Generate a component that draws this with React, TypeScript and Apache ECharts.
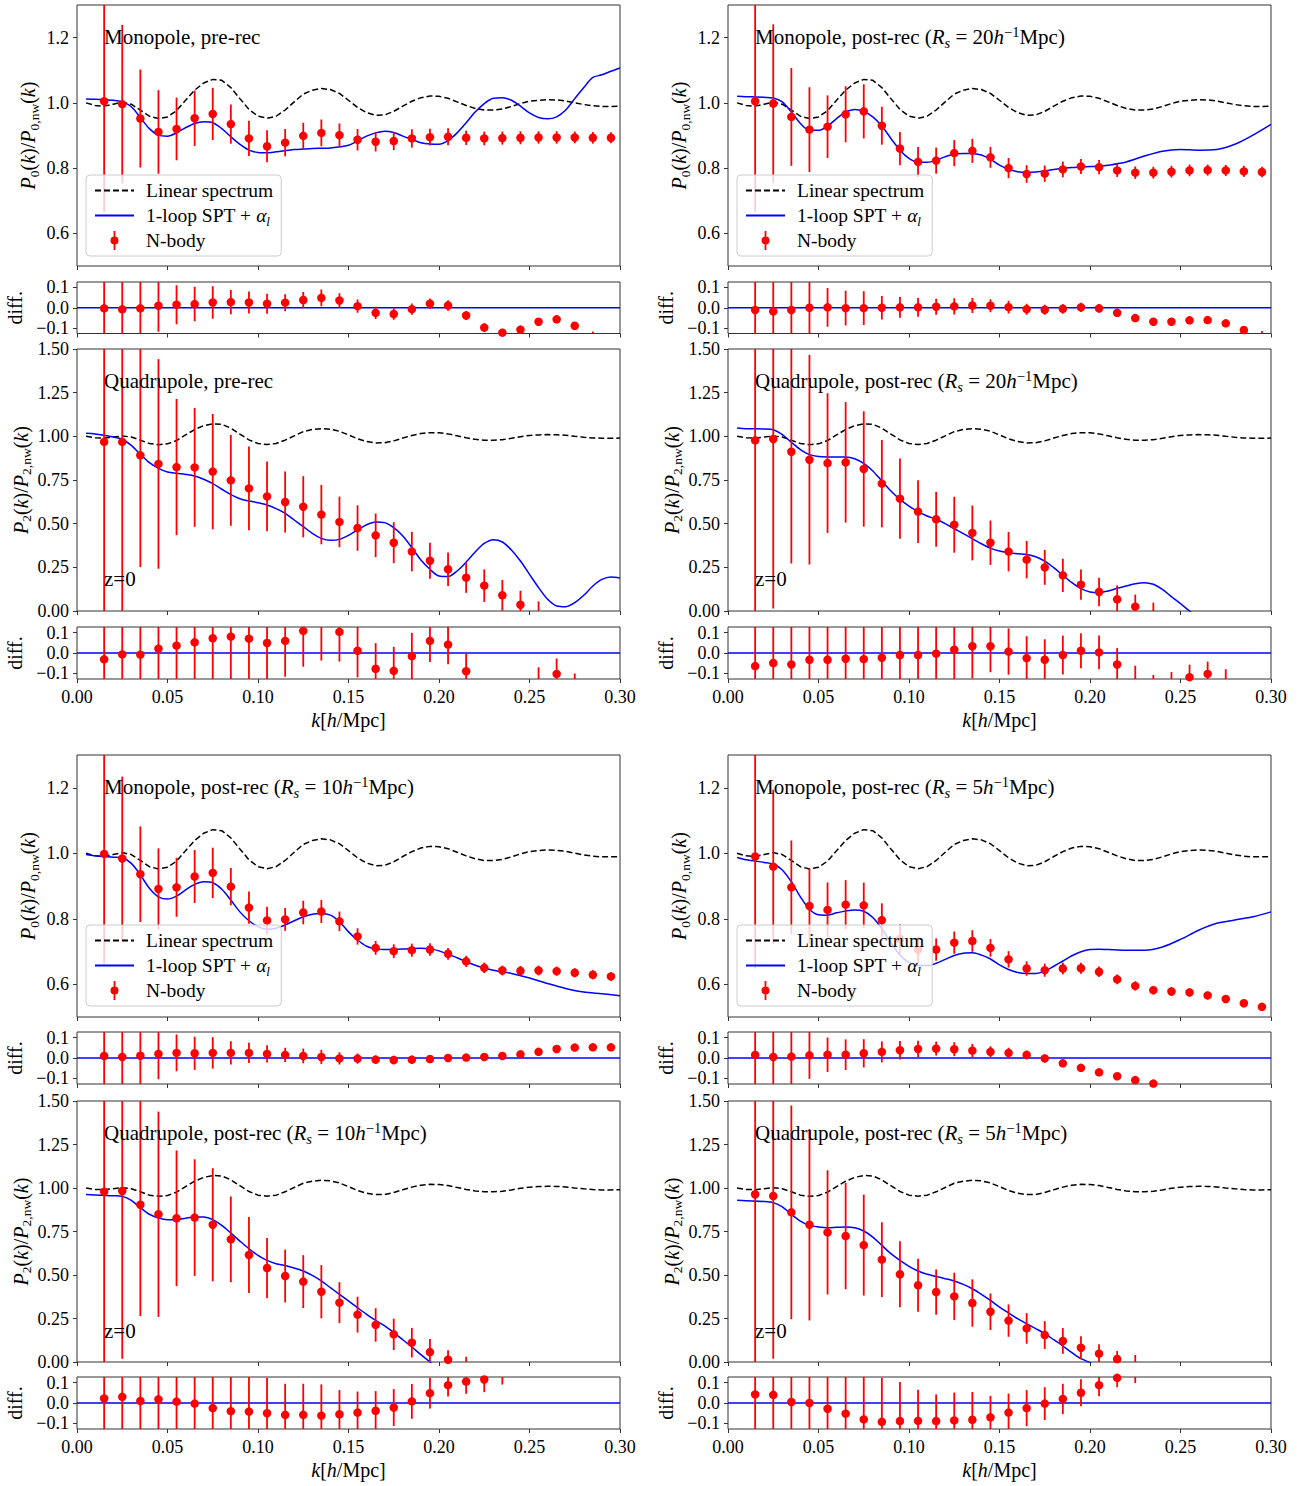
import React, { useEffect, useRef } from "react";
import * as echarts from "echarts";

// ---------------- DATA ----------------
const K = [0.015, 0.025, 0.035, 0.045, 0.055, 0.065, 0.075, 0.085, 0.095, 0.105, 0.115, 0.125, 0.135, 0.145, 0.155, 0.165, 0.175, 0.185, 0.195, 0.205, 0.215, 0.225, 0.235, 0.245, 0.255, 0.265, 0.275, 0.285, 0.295];

const LINEAR = [
  [0.005, 1.0], [0.01, 0.992], [0.015, 0.99], [0.02, 0.996], [0.025, 1.002], [0.03, 0.996], [0.035, 0.978], [0.04, 0.959], [0.045, 0.952], [0.05, 0.957],
  [0.055, 0.976], [0.06, 1.008], [0.065, 1.039], [0.07, 1.061], [0.075, 1.072], [0.08, 1.069], [0.085, 1.047], [0.09, 1.013], [0.095, 0.98], [0.1, 0.959],
  [0.105, 0.953], [0.11, 0.959], [0.115, 0.978], [0.12, 1.003], [0.125, 1.027], [0.13, 1.039], [0.135, 1.044], [0.14, 1.041], [0.145, 1.029], [0.15, 1.008],
  [0.155, 0.986], [0.16, 0.97], [0.165, 0.962], [0.17, 0.963], [0.175, 0.974], [0.18, 0.99], [0.185, 1.005], [0.19, 1.016], [0.195, 1.021], [0.2, 1.02],
  [0.205, 1.014], [0.21, 1.003], [0.215, 0.992], [0.22, 0.983], [0.225, 0.978], [0.23, 0.978], [0.235, 0.981], [0.24, 0.989], [0.245, 0.998], [0.25, 1.005],
  [0.255, 1.008], [0.26, 1.01], [0.265, 1.009], [0.27, 1.006], [0.275, 1.0], [0.28, 0.995], [0.285, 0.991], [0.29, 0.989], [0.295, 0.989], [0.3, 0.99],
];

// pre-rec monopole
const M0_VALS = [1.005, 0.996, 0.952, 0.911, 0.92, 0.953, 0.966, 0.935, 0.891, 0.867, 0.878, 0.899, 0.908, 0.901, 0.887, 0.881, 0.883, 0.891, 0.895, 0.896, 0.893, 0.891, 0.892, 0.893, 0.894, 0.894, 0.894, 0.893, 0.893];
const M0_ERR = [0.34, 0.243, 0.15, 0.128, 0.096, 0.085, 0.08, 0.06, 0.054, 0.049, 0.042, 0.04, 0.041, 0.036, 0.033, 0.03, 0.028, 0.028, 0.026, 0.026, 0.022, 0.021, 0.02, 0.02, 0.019, 0.019, 0.018, 0.018, 0.017];
const M0_DIFF = [-0.003, -0.008, -0.003, 0.01, 0.015, 0.018, 0.026, 0.028, 0.026, 0.02, 0.025, 0.038, 0.049, 0.036, 0.008, -0.025, -0.031, -0.007, 0.02, 0.011, -0.038, -0.098, -0.123, -0.108, -0.069, -0.057, -0.089, -0.135, null];
const M0_MODEL = [
  [0.005, 1.012], [0.01, 1.011], [0.02, 1.008], [0.025, 1.003], [0.03, 0.988], [0.035, 0.955], [0.04, 0.921], [0.045, 0.901], [0.05, 0.898], [0.055, 0.908],
  [0.06, 0.924], [0.065, 0.937], [0.07, 0.942], [0.075, 0.939], [0.08, 0.921], [0.085, 0.896], [0.09, 0.873], [0.095, 0.855], [0.1, 0.848], [0.105, 0.847],
  [0.11, 0.85], [0.115, 0.853], [0.12, 0.857], [0.13, 0.86], [0.14, 0.862], [0.15, 0.87], [0.155, 0.883], [0.16, 0.898], [0.165, 0.908], [0.17, 0.913],
  [0.175, 0.909], [0.18, 0.898], [0.185, 0.888], [0.19, 0.878], [0.195, 0.874], [0.2, 0.873], [0.205, 0.884], [0.21, 0.908], [0.215, 0.939], [0.22, 0.972],
  [0.225, 0.998], [0.23, 1.014], [0.235, 1.016], [0.24, 1.008], [0.245, 0.99], [0.25, 0.969], [0.255, 0.955], [0.26, 0.951], [0.265, 0.957], [0.27, 0.978],
  [0.275, 1.013], [0.28, 1.047], [0.285, 1.078], [0.29, 1.086], [0.295, 1.097], [0.3, 1.107],
];

// pre-rec quadrupole
const Q0_VALS = [0.968, 0.968, 0.891, 0.842, 0.824, 0.822, 0.798, 0.748, 0.702, 0.656, 0.624, 0.597, 0.552, 0.51, 0.475, 0.433, 0.391, 0.34, 0.288, 0.239, 0.191, 0.145, 0.09, 0.036, -0.025, null, null, null, null];
const Q0_ERR = [1.1, 1.0, 0.64, 0.6, 0.39, 0.34, 0.33, 0.26, 0.24, 0.2, 0.175, 0.175, 0.17, 0.145, 0.13, 0.125, 0.117, 0.113, 0.103, 0.096, 0.087, 0.093, 0.088, 0.08, 0.08, 0.075, 0.07, 0.07, 0.07];
const Q0_DIFF = [-0.031, -0.007, -0.008, 0.021, 0.036, 0.052, 0.072, 0.08, 0.07, 0.049, 0.059, 0.108, 0.133, 0.103, 0.011, -0.077, -0.087, -0.015, 0.059, 0.041, -0.089, null, null, null, -0.15, -0.102, -0.17, null, null];
const Q0_MODEL = [
  [0.005, 1.017], [0.01, 1.013], [0.02, 0.996], [0.025, 0.983], [0.03, 0.948], [0.035, 0.897], [0.04, 0.849], [0.045, 0.817], [0.05, 0.796], [0.055, 0.788],
  [0.06, 0.782], [0.065, 0.773], [0.07, 0.754], [0.075, 0.729], [0.08, 0.697], [0.085, 0.666], [0.09, 0.643], [0.095, 0.63], [0.1, 0.62], [0.105, 0.607],
  [0.11, 0.586], [0.115, 0.559], [0.12, 0.521], [0.125, 0.483], [0.13, 0.445], [0.135, 0.416], [0.14, 0.405], [0.145, 0.41], [0.15, 0.433], [0.155, 0.464],
  [0.16, 0.494], [0.165, 0.51], [0.17, 0.506], [0.175, 0.477], [0.18, 0.429], [0.185, 0.363], [0.19, 0.292], [0.195, 0.239], [0.2, 0.2], [0.205, 0.197],
  [0.21, 0.229], [0.215, 0.28], [0.22, 0.338], [0.225, 0.387], [0.23, 0.408], [0.235, 0.395], [0.24, 0.349], [0.245, 0.286], [0.25, 0.21], [0.255, 0.134],
  [0.26, 0.067], [0.265, 0.029], [0.27, 0.025], [0.275, 0.048], [0.28, 0.09], [0.285, 0.143], [0.29, 0.181], [0.295, 0.195], [0.3, 0.189],
];

// post-rec Rs=20
const M20_VALS = [1.005, 0.998, 0.957, 0.918, 0.927, 0.965, 0.974, 0.93, 0.86, 0.819, 0.823, 0.846, 0.853, 0.833, 0.8, 0.782, 0.783, 0.796, 0.805, 0.803, 0.793, 0.786, 0.786, 0.789, 0.793, 0.794, 0.793, 0.79, 0.788];
const M20_ERR = [0.34, 0.243, 0.15, 0.13, 0.096, 0.086, 0.083, 0.058, 0.051, 0.046, 0.04, 0.04, 0.037, 0.032, 0.031, 0.027, 0.025, 0.024, 0.023, 0.022, 0.02, 0.019, 0.018, 0.018, 0.018, 0.017, 0.017, 0.017, 0.016];
const M20_DIFF = [-0.011, -0.018, -0.011, 0, 0.002, -0.002, -0.002, 0, 0.002, 0.002, 0.005, 0.007, 0.011, 0.01, 0.003, -0.007, -0.01, -0.005, 0.002, -0.003, -0.025, -0.051, -0.069, -0.069, -0.062, -0.061, -0.077, -0.11, -0.131];
const M20_MODEL = [
  [0.005, 1.02], [0.01, 1.019], [0.02, 1.017], [0.025, 1.015], [0.03, 1.003], [0.035, 0.972], [0.04, 0.937], [0.045, 0.916], [0.05, 0.916], [0.055, 0.929],
  [0.06, 0.952], [0.065, 0.972], [0.07, 0.98], [0.075, 0.974], [0.08, 0.957], [0.085, 0.929], [0.09, 0.891], [0.095, 0.855], [0.1, 0.83], [0.105, 0.818],
  [0.11, 0.818], [0.115, 0.824], [0.12, 0.835], [0.125, 0.843], [0.13, 0.845], [0.135, 0.845], [0.14, 0.84], [0.145, 0.827], [0.15, 0.809], [0.155, 0.797],
  [0.16, 0.789], [0.165, 0.787], [0.17, 0.788], [0.175, 0.791], [0.18, 0.796], [0.19, 0.802], [0.2, 0.805], [0.205, 0.806], [0.21, 0.809], [0.22, 0.819],
  [0.23, 0.837], [0.24, 0.852], [0.25, 0.857], [0.26, 0.855], [0.27, 0.857], [0.28, 0.873], [0.29, 0.901], [0.3, 0.934],
];
const Q20_VALS = [0.977, 0.985, 0.912, 0.866, 0.847, 0.851, 0.813, 0.729, 0.643, 0.569, 0.525, 0.494, 0.447, 0.391, 0.34, 0.294, 0.25, 0.204, 0.151, 0.109, 0.067, 0.025, -0.02, null, null, null, null, null, null];
const Q20_ERR = [1.1, 0.97, 0.64, 0.6, 0.4, 0.345, 0.33, 0.25, 0.23, 0.18, 0.157, 0.16, 0.157, 0.127, 0.113, 0.107, 0.1, 0.095, 0.086, 0.082, 0.08, 0.069, 0.068, 0.065, 0.061, 0.06, 0.055, 0.055, 0.055];
const Q20_DIFF = [-0.064, -0.049, -0.056, -0.033, -0.033, -0.028, -0.03, -0.023, -0.01, -0.01, -0.003, 0.016, 0.033, 0.033, 0.007, -0.025, -0.033, -0.01, 0.011, 0.003, -0.056, -0.131, -0.175, -0.158, -0.118, -0.102, -0.134, null, null];
const Q20_MODEL = [
  [0.005, 1.048], [0.01, 1.044], [0.02, 1.042], [0.025, 1.038], [0.03, 1.01], [0.035, 0.966], [0.04, 0.924], [0.045, 0.895], [0.05, 0.884], [0.055, 0.882],
  [0.06, 0.882], [0.065, 0.882], [0.07, 0.872], [0.075, 0.845], [0.08, 0.802], [0.085, 0.744], [0.09, 0.687], [0.095, 0.639], [0.1, 0.601], [0.105, 0.569],
  [0.11, 0.544], [0.115, 0.525], [0.12, 0.5], [0.125, 0.471], [0.13, 0.443], [0.135, 0.414], [0.14, 0.385], [0.145, 0.36], [0.15, 0.343], [0.155, 0.334],
  [0.16, 0.328], [0.165, 0.324], [0.17, 0.311], [0.175, 0.286], [0.18, 0.248], [0.185, 0.204], [0.19, 0.162], [0.195, 0.128], [0.2, 0.109], [0.205, 0.105],
  [0.21, 0.115], [0.215, 0.13], [0.22, 0.143], [0.225, 0.156], [0.23, 0.162], [0.235, 0.153], [0.24, 0.124], [0.245, 0.082], [0.25, 0.042], [0.255, 0.0],
  [0.26, -0.04],
];

// post-rec Rs=10
const M10_VALS = [0.998, 0.984, 0.936, 0.891, 0.896, 0.929, 0.94, 0.898, 0.834, 0.795, 0.798, 0.819, 0.822, 0.792, 0.746, 0.711, 0.701, 0.704, 0.706, 0.693, 0.67, 0.65, 0.642, 0.641, 0.642, 0.64, 0.635, 0.629, 0.624];
const M10_ERR = [0.335, 0.25, 0.146, 0.124, 0.09, 0.081, 0.077, 0.057, 0.049, 0.042, 0.035, 0.036, 0.035, 0.03, 0.025, 0.021, 0.021, 0.02, 0.019, 0.018, 0.017, 0.016, 0.015, 0.015, 0.015, 0.014, 0.014, 0.014, 0.013];
const M10_DIFF = [0.01, 0.005, 0.011, 0.02, 0.025, 0.023, 0.025, 0.025, 0.025, 0.02, 0.015, 0.01, 0.005, -0.002, -0.003, -0.008, -0.01, -0.008, -0.005, 0, 0.002, 0.005, 0.01, 0.018, 0.03, 0.044, 0.051, 0.052, 0.052];
const M10_MODEL = [
  [0.005, 0.996], [0.01, 0.992], [0.02, 0.988], [0.025, 0.986], [0.03, 0.969], [0.035, 0.934], [0.04, 0.893], [0.045, 0.867], [0.05, 0.86], [0.055, 0.869],
  [0.06, 0.888], [0.065, 0.905], [0.07, 0.913], [0.075, 0.91], [0.08, 0.89], [0.085, 0.857], [0.09, 0.821], [0.095, 0.794], [0.1, 0.776], [0.105, 0.768],
  [0.11, 0.771], [0.115, 0.781], [0.12, 0.794], [0.125, 0.806], [0.13, 0.814], [0.135, 0.816], [0.14, 0.811], [0.145, 0.791], [0.15, 0.76], [0.155, 0.735],
  [0.16, 0.716], [0.165, 0.708], [0.17, 0.706], [0.18, 0.708], [0.19, 0.71], [0.195, 0.708], [0.2, 0.702], [0.21, 0.681], [0.22, 0.658], [0.23, 0.643],
  [0.24, 0.633], [0.25, 0.619], [0.26, 0.602], [0.27, 0.587], [0.28, 0.576], [0.29, 0.571], [0.3, 0.565],
];
const Q10_VALS = [0.979, 0.983, 0.904, 0.849, 0.826, 0.83, 0.789, 0.705, 0.615, 0.54, 0.494, 0.462, 0.404, 0.341, 0.272, 0.213, 0.159, 0.111, 0.057, 0.013, -0.03, null, null, null, null, null, null, null, null];
const Q10_ERR = [1.1, 0.965, 0.64, 0.59, 0.39, 0.335, 0.325, 0.246, 0.218, 0.173, 0.152, 0.152, 0.153, 0.118, 0.103, 0.096, 0.09, 0.085, 0.075, 0.055, 0.06, 0.062, 0.055, 0.055, 0.05, 0.05, 0.05, 0.05, 0.05];
const Q10_DIFF = [0.022, 0.03, 0.01, 0.018, 0.007, -0.003, -0.025, -0.04, -0.042, -0.05, -0.058, -0.058, -0.062, -0.055, -0.047, -0.038, -0.022, 0.008, 0.048, 0.087, 0.105, 0.115, 0.145, null, null, null, null, null, null];
const Q10_MODEL = [
  [0.005, 0.962], [0.01, 0.96], [0.02, 0.956], [0.025, 0.952], [0.03, 0.929], [0.035, 0.887], [0.04, 0.849], [0.045, 0.828], [0.05, 0.818], [0.055, 0.818],
  [0.06, 0.826], [0.065, 0.833], [0.07, 0.833], [0.075, 0.818], [0.08, 0.785], [0.085, 0.741], [0.09, 0.695], [0.095, 0.651], [0.1, 0.613], [0.105, 0.584],
  [0.11, 0.565], [0.115, 0.554], [0.12, 0.54], [0.125, 0.523], [0.13, 0.498], [0.135, 0.466], [0.14, 0.427], [0.145, 0.389], [0.15, 0.351], [0.155, 0.312],
  [0.16, 0.274], [0.165, 0.239], [0.17, 0.207], [0.175, 0.169], [0.18, 0.128], [0.185, 0.086], [0.19, 0.042], [0.195, 0.0], [0.2, -0.04],
];

// post-rec Rs=5
const M5_VALS = [0.99, 0.959, 0.896, 0.839, 0.827, 0.843, 0.841, 0.796, 0.738, 0.706, 0.706, 0.727, 0.732, 0.711, 0.676, 0.648, 0.643, 0.648, 0.649, 0.638, 0.615, 0.595, 0.582, 0.578, 0.575, 0.566, 0.555, 0.542, 0.531];
const M5_ERR = [0.342, 0.235, 0.143, 0.115, 0.084, 0.075, 0.069, 0.051, 0.045, 0.04, 0.034, 0.034, 0.033, 0.027, 0.025, 0.022, 0.02, 0.018, 0.017, 0.016, 0.015, 0.014, 0.013, 0.013, 0.013, 0.012, 0.012, 0.012, 0.011];
const M5_DIFF = [0.015, 0.005, 0.007, 0.013, 0.016, 0.016, 0.023, 0.03, 0.038, 0.044, 0.046, 0.043, 0.036, 0.03, 0.025, 0.015, -0.002, -0.026, -0.048, -0.07, -0.089, -0.108, -0.125, null, null, null, null, null, null];
const M5_MODEL = [
  [0.005, 0.987], [0.01, 0.98], [0.02, 0.972], [0.025, 0.967], [0.03, 0.949], [0.035, 0.913], [0.04, 0.867], [0.045, 0.829], [0.05, 0.812], [0.055, 0.811],
  [0.06, 0.818], [0.065, 0.824], [0.07, 0.827], [0.075, 0.823], [0.08, 0.804], [0.085, 0.77], [0.09, 0.727], [0.095, 0.689], [0.1, 0.666], [0.105, 0.657],
  [0.11, 0.657], [0.115, 0.664], [0.12, 0.676], [0.125, 0.688], [0.13, 0.695], [0.135, 0.696], [0.14, 0.689], [0.145, 0.677], [0.15, 0.659], [0.155, 0.645],
  [0.16, 0.636], [0.165, 0.633], [0.17, 0.633], [0.175, 0.64], [0.18, 0.655], [0.185, 0.671], [0.19, 0.687], [0.195, 0.699], [0.2, 0.706], [0.205, 0.707],
  [0.21, 0.706], [0.22, 0.704], [0.23, 0.704], [0.24, 0.714], [0.25, 0.737], [0.26, 0.765], [0.27, 0.786], [0.28, 0.796], [0.29, 0.806], [0.3, 0.821],
];
const Q5_VALS = [0.964, 0.954, 0.86, 0.789, 0.745, 0.724, 0.672, 0.588, 0.504, 0.441, 0.402, 0.377, 0.339, 0.289, 0.238, 0.193, 0.155, 0.121, 0.082, 0.048, 0.017, -0.01, null, null, null, null, null, null, null];
const Q5_ERR = [1.1, 0.935, 0.614, 0.55, 0.357, 0.306, 0.29, 0.215, 0.19, 0.152, 0.13, 0.136, 0.136, 0.105, 0.093, 0.088, 0.08, 0.074, 0.066, 0.054, 0.046, 0.05, 0.05, 0.05, 0.05, 0.05, 0.05, 0.05, 0.05];
const Q5_DIFF = [0.042, 0.04, 0.005, 0, -0.028, -0.052, -0.08, -0.092, -0.088, -0.087, -0.088, -0.085, -0.082, -0.07, -0.047, -0.025, -0.003, 0.02, 0.05, 0.087, 0.123, 0.147, null, null, null, null, null, null, null];
const Q5_MODEL = [
  [0.005, 0.929], [0.01, 0.927], [0.02, 0.923], [0.025, 0.916], [0.03, 0.891], [0.035, 0.849], [0.04, 0.81], [0.045, 0.785], [0.05, 0.776], [0.055, 0.772],
  [0.06, 0.774], [0.065, 0.776], [0.07, 0.772], [0.075, 0.753], [0.08, 0.718], [0.085, 0.67], [0.09, 0.623], [0.095, 0.584], [0.1, 0.55], [0.105, 0.523],
  [0.11, 0.504], [0.115, 0.492], [0.12, 0.479], [0.125, 0.466], [0.13, 0.446], [0.135, 0.421], [0.14, 0.389], [0.145, 0.354], [0.15, 0.316], [0.155, 0.282],
  [0.16, 0.249], [0.165, 0.22], [0.17, 0.192], [0.175, 0.163], [0.18, 0.128], [0.185, 0.092], [0.19, 0.054], [0.195, 0.019], [0.2, -0.004], [0.205, -0.04],
];

const MONO_TICKS = [0.6, 0.8, 1.0, 1.2];
const QUAD_TICKS = [0, 0.25, 0.5, 0.75, 1.0, 1.25, 1.5];
const DIFF_TICKS = [-0.1, 0, 0.1];

// ---------------- LAYOUT / STYLE ----------------
const FONT = "'Liberation Serif', 'DejaVu Serif', serif";
const FS = 18;
const MODEL_NAME = "1-loop SPT + αl";
const COL_LEFT = [77, 728];
const PLOT_W = 543;
const ROW_TOPS = [[5, 282, 349, 627], [755, 1032, 1101, 1377]];
const ROW_HEIGHTS = [[261, 51.5, 262, 52], [262, 52, 261, 52]];
const SPINE = "#333333";

function makeRich(fs: number, sub: number, lh: number) {
  return {
    i: { fontFamily: FONT, fontSize: fs, fontStyle: "italic", color: "#000", lineHeight: lh },
    r: { fontFamily: FONT, fontSize: fs, color: "#000", lineHeight: lh },
    s: { fontFamily: FONT, fontSize: sub, color: "#000", lineHeight: Math.round(lh / 2), verticalAlign: "bottom" },
    si: { fontFamily: FONT, fontSize: sub, fontStyle: "italic", color: "#000", lineHeight: Math.round(lh / 2), verticalAlign: "bottom" },
    sup: { fontFamily: FONT, fontSize: sub, color: "#000", lineHeight: Math.round(lh / 2), verticalAlign: "top" },
  };
}
const TITLE_RICH = makeRich(21, 14.5, 26);
const NAME_RICH = makeRich(20, 13.5, 26);
const LEGEND_RICH = makeRich(19.5, 13, 25);

const EQ = " = ";
const postTitle = (kind: string, rs: string) =>
  "{r|" + kind + ", post-rec (}{i|R}{si|s}{r|" + EQ + rs + "}{i|h}{sup|−1}{r|Mpc)}";

const BLOCKS = [
  { col: 0, row: 0, mono: M0_VALS, monoErr: M0_ERR, monoDiff: M0_DIFF, monoModel: M0_MODEL, quad: Q0_VALS, quadErr: Q0_ERR, quadDiff: Q0_DIFF, quadModel: Q0_MODEL,
    monoTitle: "{r|Monopole, pre-rec}", quadTitle: "{r|Quadrupole, pre-rec}" },
  { col: 1, row: 0, mono: M20_VALS, monoErr: M20_ERR, monoDiff: M20_DIFF, monoModel: M20_MODEL, quad: Q20_VALS, quadErr: Q20_ERR, quadDiff: Q20_DIFF, quadModel: Q20_MODEL,
    monoTitle: postTitle("Monopole", "20"), quadTitle: postTitle("Quadrupole", "20") },
  { col: 0, row: 1, mono: M10_VALS, monoErr: M10_ERR, monoDiff: M10_DIFF, monoModel: M10_MODEL, quad: Q10_VALS, quadErr: Q10_ERR, quadDiff: Q10_DIFF, quadModel: Q10_MODEL,
    monoTitle: postTitle("Monopole", "10"), quadTitle: postTitle("Quadrupole", "10") },
  { col: 1, row: 1, mono: M5_VALS, monoErr: M5_ERR, monoDiff: M5_DIFF, monoModel: M5_MODEL, quad: Q5_VALS, quadErr: Q5_ERR, quadDiff: Q5_DIFF, quadModel: Q5_MODEL,
    monoTitle: postTitle("Monopole", "5"), quadTitle: postTitle("Quadrupole", "5") },
];

const NBODY_ICON = "path://M0,0L0.01,0M39,19L38.99,19M18.6,0h1.8v19h-1.8zM15.5,9.5a4,4 0 1,1 8,0a4,4 0 1,1 -8,0z";

function fmtDiff(v: number) {
  if (Math.abs(v) < 1e-9) return "0.0";
  return v < 0 ? "−" + Math.abs(v).toFixed(1) : v.toFixed(1);
}

function buildOption() {
  const grid: any[] = [];
  const xAxis: any[] = [];
  const yAxis: any[] = [];
  const series: any[] = [];
  const title: any[] = [];
  const legend: any[] = [];

  const textBase = { fontFamily: FONT, fontSize: FS, color: "#000" };

  const addPanel = (left: number, top: number, height: number, kind: "mono" | "quad" | "diff", bottomLabels: boolean, yName: string, nameGap: number) => {
    const idx = grid.length;
    grid.push({ left, top, width: PLOT_W, height, show: true, borderColor: SPINE, borderWidth: 1, backgroundColor: "transparent", containLabel: false, outerBoundsMode: "none" });
    xAxis.push({
      gridIndex: idx, type: "value", min: 0, max: 0.3, interval: 0.05,
      axisLine: { show: false, onZero: false },
      axisTick: { show: true, inside: false, length: 4, lineStyle: { color: SPINE, width: 1 } },
      axisLabel: { show: bottomLabels, margin: 9, ...textBase, formatter: (v: number) => v.toFixed(2) },
      splitLine: { show: false },
      name: bottomLabels ? "{i|k}{r|[}{i|h}{r|/Mpc]}" : "",
      nameLocation: "middle", nameGap: 28,
      nameTextStyle: { ...textBase, rich: NAME_RICH },
    });
    let min = 0.5, max = 1.3, ticks = MONO_TICKS, fmt = (v: number) => v.toFixed(1);
    if (kind === "quad") { min = 0; max = 1.5; ticks = QUAD_TICKS; fmt = (v: number) => v.toFixed(2); }
    if (kind === "diff") { min = -0.127; max = 0.127; ticks = DIFF_TICKS; fmt = fmtDiff; }
    yAxis.push({
      gridIndex: idx, type: "value", min, max,
      axisLine: { show: false, onZero: false },
      axisTick: { show: true, inside: false, length: 4, customValues: ticks, lineStyle: { color: SPINE, width: 1 } },
      axisLabel: { show: true, margin: 8, customValues: ticks, ...textBase, formatter: fmt },
      splitLine: { show: false },
      name: yName, nameLocation: "middle", nameRotate: 90, nameGap,
      nameTextStyle: { ...textBase, rich: NAME_RICH },
    });
    return idx;
  };

  const addPoints = (idx: number, vals: (number | null)[], errs: number[]) => {
    const barData: any[] = [];
    const dotData: any[] = [];
    K.forEach((k, i) => {
      const v = vals[i];
      if (v === null || v === undefined) return;
      barData.push([k, v, errs[i]]);
      dotData.push([k, v]);
    });
    series.push({
      type: "custom", name: "N-body errors", xAxisIndex: idx, yAxisIndex: idx, clip: true, silent: true, z: 3,
      data: barData,
      renderItem: (params: any, api: any) => {
        const x = api.value(0), y = api.value(1), e = api.value(2);
        const p1 = api.coord([x, y - e]);
        const p2 = api.coord([x, y + e]);
        return { type: "line", shape: { x1: p1[0], y1: p1[1], x2: p2[0], y2: p2[1] }, style: { stroke: "#ff0000", lineWidth: 1.8 } };
      },
    });
    series.push({
      type: "scatter", name: "N-body", xAxisIndex: idx, yAxisIndex: idx, clip: true, silent: true, z: 3,
      symbol: "circle", symbolSize: 8.5, itemStyle: { color: "#ff0000", opacity: 1 }, data: dotData,
    });
  };

  BLOCKS.forEach((b) => {
    const left = COL_LEFT[b.col];
    const tops = ROW_TOPS[b.row];
    const hs = ROW_HEIGHTS[b.row];

    // monopole main
    const g0 = addPanel(left, tops[0], hs[0], "mono", false, "{i|P}{s|0}{r|(}{i|k}{r|)/}{i|P}{s|0,nw}{r|(}{i|k}{r|)}", 36);
    series.push({ type: "line", name: "Linear spectrum", xAxisIndex: g0, yAxisIndex: g0, data: LINEAR, symbol: "none", silent: true, z: 2, color: "#000",
      lineStyle: { color: "#000", width: 1.5, type: [6, 3] } });
    series.push({ type: "line", name: MODEL_NAME, xAxisIndex: g0, yAxisIndex: g0, data: b.monoModel, symbol: "none", smooth: 0.3, silent: true, z: 2, color: "#0000ff",
      lineStyle: { color: "#0000ff", width: 1.5 } });
    addPoints(g0, b.mono, b.monoErr);

    // monopole diff
    const g1 = addPanel(left, tops[1], hs[1], "diff", false, "{r|diff.}", 49);
    series.push({ type: "line", name: "zero", xAxisIndex: g1, yAxisIndex: g1, data: [[0, 0], [0.3, 0]], symbol: "none", silent: true, z: 2, color: "#0000ff",
      lineStyle: { color: "#0000ff", width: 1.5 } });
    addPoints(g1, b.monoDiff, b.monoErr);

    // quadrupole main
    const g2 = addPanel(left, tops[2], hs[2], "quad", false, "{i|P}{s|2}{r|(}{i|k}{r|)/}{i|P}{s|2,nw}{r|(}{i|k}{r|)}", 43);
    series.push({ type: "line", name: "Linear spectrum", xAxisIndex: g2, yAxisIndex: g2, data: LINEAR, symbol: "none", silent: true, z: 2, color: "#000",
      lineStyle: { color: "#000", width: 1.5, type: [6, 3] } });
    series.push({ type: "line", name: MODEL_NAME, xAxisIndex: g2, yAxisIndex: g2, data: b.quadModel, symbol: "none", smooth: 0.3, silent: true, z: 2, color: "#0000ff",
      lineStyle: { color: "#0000ff", width: 1.5 } });
    addPoints(g2, b.quad, b.quadErr);

    // quadrupole diff
    const g3 = addPanel(left, tops[3], hs[3], "diff", true, "{r|diff.}", 49);
    series.push({ type: "line", name: "zero", xAxisIndex: g3, yAxisIndex: g3, data: [[0, 0], [0.3, 0]], symbol: "none", silent: true, z: 2, color: "#0000ff",
      lineStyle: { color: "#0000ff", width: 1.5 } });
    addPoints(g3, b.quadDiff, b.quadErr);

    // panel titles
    const tStyle = { ...textBase, fontWeight: "normal", rich: TITLE_RICH };
    title.push({ text: b.monoTitle, left: left + 27, top: tops[0] + 19, padding: 0, textStyle: tStyle });
    title.push({ text: b.quadTitle, left: left + 27, top: tops[2] + 19, padding: 0, textStyle: tStyle });
    title.push({ text: "{r|z=0}", left: left + 27, top: tops[2] + 217, padding: 0, textStyle: tStyle });

    // legend
    legend.push({
      show: true, orient: "vertical", left: left + 9, top: tops[0] + 170, z: 10,
      data: [
        { name: "Linear spectrum", itemStyle: { opacity: 0 } },
        { name: MODEL_NAME, itemStyle: { opacity: 0 } },
        { name: "N-body", icon: NBODY_ICON },
      ],
      itemWidth: 39, itemHeight: 19, itemGap: 0, selectedMode: false,
      padding: [3, 8, 3, 8], backgroundColor: "rgba(255,255,255,0.8)", borderColor: "#cccccc", borderWidth: 1, borderRadius: 4,
      textStyle: { ...textBase, fontSize: 19.5, lineHeight: 25, padding: [0, 0, 0, 7], rich: LEGEND_RICH },
      formatter: (name: string) => (name === MODEL_NAME ? "{r|1-loop SPT + }{i|α}{si|l}" : "{r|" + name + "}"),
    });
  });

  return { animation: false, backgroundColor: "#ffffff", grid, xAxis, yAxis, series, title, legend };
}

export default function App() {
  const ref = useRef<HTMLDivElement>(null);
  useEffect(() => {
    document.body.style.margin = "0";
    if (!ref.current) return;
    const chart = echarts.init(ref.current, undefined, { renderer: "svg" });
    chart.setOption(buildOption() as any);
    return () => chart.dispose();
  }, []);
  return <div ref={ref} style={{ width: 1306, height: 1486 }} />;
}
